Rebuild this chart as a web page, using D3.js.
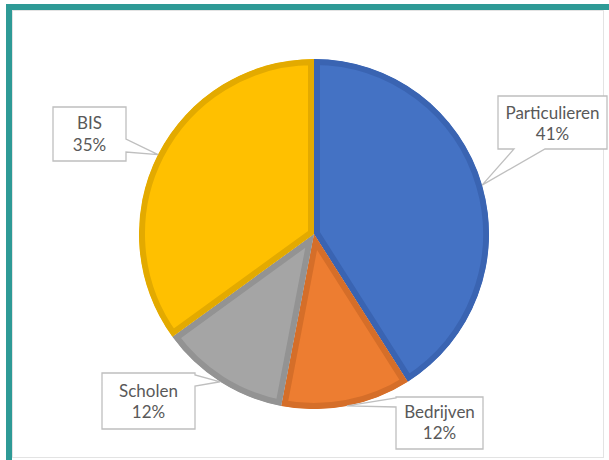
<!DOCTYPE html>
<html><head><meta charset="utf-8">
<script src="https://cdn.jsdelivr.net/npm/d3@7"></script>
<style>html,body{margin:0;padding:0;background:#fff;}svg{display:block;}</style>
</head><body>
<svg id="chart" width="609" height="460"></svg>
<script>
const categories = ["Particulieren", "Bedrijven", "Scholen", "BIS"];
const values = [41, 12, 12, 35];
const labels = ["41%", "12%", "12%", "35%"];
const fills = ["#4472C4", "#ED7D31", "#A5A5A5", "#FFC000"];
const borders = ["#3A64B2", "#D56E29", "#939393", "#E3AA00"];
// callout layout: box [x, y, w, h], tail side and base range
const boxes = [
  {x:498, y:96, w:109, h:53, side:"bottom", a:514, b:545, t1:119, t2:140},
  {x:396, y:397, w:87, h:52, side:"left", a:398, b:407, t1:418, t2:439},
  {x:102, y:373, w:93, h:56, side:"right", a:375, b:386, t1:397, t2:418},
  {x:53, y:107, w:73, h:54, side:"right", a:139, b:152, t1:129, t2:151}
];

const svg = d3.select("#chart");
const W = 609, H = 460;
// frame
svg.append("rect").attr("x",0).attr("y",0).attr("width",W).attr("height",H).attr("fill","#fff");
svg.append("rect").attr("x",6).attr("y",4).attr("width",W-6).attr("height",6).attr("fill","#2E9A96");
svg.append("rect").attr("x",6).attr("y",4).attr("width",6).attr("height",H-4).attr("fill","#2E9A96");
svg.append("rect").attr("x",12.5).attr("y",10.5).attr("width",W-18).attr("height",H-13)
  .attr("fill","none").attr("stroke","#E3E3E3").attr("stroke-width",1);

const cx = 314, cy = 234, R = 175;
const pie = d3.pie().sort(null).value(d => d)(values);
const arc = d3.arc().innerRadius(0).outerRadius(R);
const g = svg.append("g").attr("transform", `translate(${cx},${cy})`);
const defs = svg.append("defs");
pie.forEach((p, i) => {
  defs.append("clipPath").attr("id", "clip" + i).append("path").attr("d", arc(p));
  g.append("path").attr("d", arc(p)).attr("fill", fills[i])
    .attr("stroke", borders[i]).attr("stroke-width", 12)
    .attr("clip-path", `url(#clip${i})`);
});

// callouts
pie.forEach((p, i) => {
  const mid = (p.startAngle + p.endAngle) / 2;
  const tx = cx + R * Math.sin(mid), ty = cy - R * Math.cos(mid);
  const b = boxes[i];
  const x0 = b.x, y0 = b.y, x1 = b.x + b.w, y1 = b.y + b.h;
  let pts;
  if (b.side === "bottom") {
    pts = [[x0,y0],[x1,y0],[x1,y1],[b.b,y1],[tx,ty],[b.a,y1],[x0,y1]];
  } else if (b.side === "left") {
    pts = [[x0,y0],[x1,y0],[x1,y1],[x0,y1],[x0,b.b],[tx,ty],[x0,b.a]];
  } else {
    pts = [[x0,y0],[x1,y0],[x1,b.a],[tx,ty],[x1,b.b],[x1,y1],[x0,y1]];
  }
  svg.append("path").attr("d", d3.line()(pts) + "Z")
    .attr("fill", "#fff").attr("stroke", "#BFBFBF").attr("stroke-width", 1.3);
  const cxText = (x0 + x1) / 2;
  svg.append("text").attr("x", cxText).attr("y", b.t1).attr("text-anchor","middle")
    .attr("font-family","Lato, 'Open Sans', sans-serif").attr("font-size",17).attr("fill","#595959")
    .text(categories[i]);
  svg.append("text").attr("x", cxText).attr("y", b.t2).attr("text-anchor","middle")
    .attr("font-family","Lato, 'Open Sans', sans-serif").attr("font-size",17).attr("fill","#595959")
    .text(labels[i]);
});
</script>
</body></html>
